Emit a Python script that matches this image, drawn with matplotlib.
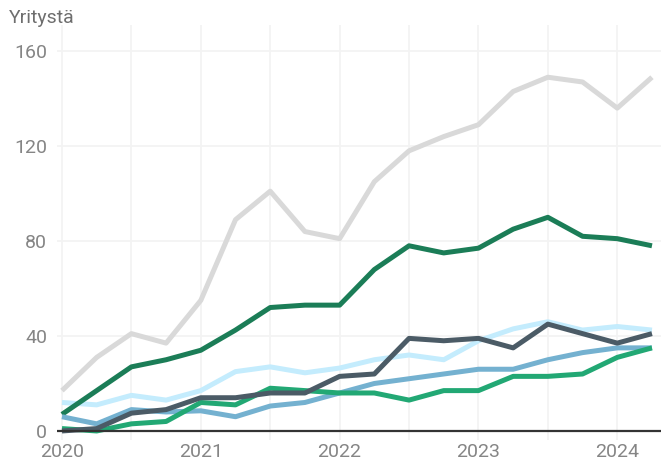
import numpy as np
import matplotlib
matplotlib.use('Agg')
import matplotlib.pyplot as plt

plt.rcParams['font.family'] = ['Roboto', 'DejaVu Sans']

# quarterly values 2020 Q1 .. 2024 Q2
quarters = np.arange(18)
year_ticks = [0, 4, 8, 12, 16]
year_labels = ['2020', '2021', '2022', '2023', '2024']

s_gray = [17, 31, 41, 37, 55, 89, 101, 84, 81, 105, 118, 124, 129, 143, 149, 147, 136, 149]
s_lightblue = [12, 11, 15, 13, 17, 25, 27, 24.5, 26.5, 30, 32, 30, 38, 43, 46, 42.5, 44, 42.5]
s_darkgreen = [7, 17, 27, 30, 34, 42.5, 52, 53, 53, 68, 78, 75, 77, 85, 90, 82, 81, 78]
s_steel = [6, 3, 9, 8, 8.5, 6, 10.5, 12, 16, 20, 22, 24, 26, 26, 30, 33, 35, 35]
s_green = [1, 0, 3, 4, 12, 11, 18, 17, 16, 16, 13, 17, 17, 23, 23, 24, 31, 35]
s_slate = [0, 1, 7.5, 9, 14, 14, 16, 16, 23, 24, 39, 38, 39, 35, 45, 41, 37, 41]

fig = plt.figure(figsize=(6.61, 4.63), dpi=100)
ax = fig.add_axes([0.0862, 0.0497, 0.9138, 0.8963])

lw = 3.6
ax.plot(quarters, s_gray, color='#d9d9d9', lw=lw, solid_capstyle='butt', zorder=3)
ax.plot(quarters, s_lightblue, color='#c4ecfd', lw=lw, solid_capstyle='butt', zorder=4)
ax.plot(quarters, s_darkgreen, color='#1b7d57', lw=lw, solid_capstyle='butt', zorder=5)
ax.plot(quarters, s_steel, color='#74b1d0', lw=lw, solid_capstyle='butt', zorder=6)
ax.plot(quarters, s_green, color='#22a874', lw=lw, solid_capstyle='butt', zorder=7)
ax.plot(quarters, s_slate, color='#4b5b66', lw=lw, solid_capstyle='butt', zorder=8)

ax.axhline(0, color='#333333', lw=1.6, zorder=9)

ax.set_xlim(-0.144, 17.26)
ax.set_ylim(-3.8, 171)
ax.set_yticks([0, 40, 80, 120, 160])
ax.set_xticks(year_ticks)
ax.set_xticklabels(year_labels)
ax.set_xticks(np.arange(2, 18, 4), minor=True)

ax.grid(True, which='both', color='#f3f3f3', lw=1.3, zorder=0)
ax.tick_params(axis='both', which='both', length=0, labelsize=14, colors='#858585')
ax.tick_params(axis='y', pad=7)
ax.tick_params(axis='x', pad=2)
for sp in ax.spines.values():
    sp.set_visible(False)

fig.text(9 / 661, 1 - 18 / 463, 'Yritystä', fontsize=14, color='#6e6e6e', va='center', ha='left')

fig.savefig('out.png', dpi=100)
